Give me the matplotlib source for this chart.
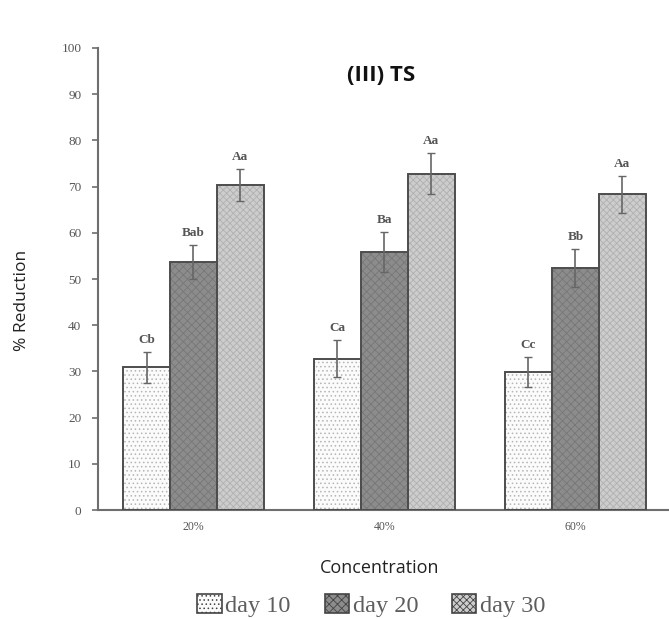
import numpy as np
import matplotlib.pyplot as plt
from matplotlib.patches import Patch

concentrations = ["20%", "40%", "60%"]
series = ["day 10", "day 20", "day 30"]
day10 = [30.9, 32.7, 29.9]
day20 = [53.6, 55.9, 52.3]
day30 = [70.4, 72.8, 68.3]
err10 = [3.4, 4.0, 3.2]
err20 = [3.7, 4.3, 4.1]
err30 = [3.5, 4.4, 4.0]
letters10 = ["Cb", "Ca", "Cc"]
letters20 = ["Bab", "Ba", "Bb"]
letters30 = ["Aa", "Aa", "Aa"]

faces = ["#fbfbfb", "#8c8c8c", "#cdcdcd"]
hatches = ["....", "xxxx", "xxxxx"]
hatch_cols = ["#b5b5b5", "#777777", "#b0b0b0"]
axis_grey = "#6e6e6e"
text_grey = "#555555"

plt.rcParams["hatch.linewidth"] = 0.6

fig = plt.figure(figsize=(6.69, 6.19), dpi=100)
ax = fig.add_axes([0.1465, 0.176, 0.8535, 0.7465])

x = np.arange(len(concentrations))
w = 0.246
values = [day10, day20, day30]
errors = [err10, err20, err30]
letters = [letters10, letters20, letters30]

for i in range(3):
    pos = x + (i - 1) * w
    ax.bar(pos, values[i], w, color=faces[i], edgecolor=hatch_cols[i],
           hatch=hatches[i], linewidth=0, zorder=2)
    # outline drawn separately so the hatch colour can differ from the edge
    ax.bar(pos, values[i], w, fill=False, edgecolor="#4d4d4d", linewidth=1.4, zorder=3)
    ax.errorbar(pos, values[i], yerr=errors[i], fmt="none", ecolor="#666666",
                elinewidth=1.2, capsize=3, capthick=1.0, zorder=4)
    for xp, v, e, lab in zip(pos, values[i], errors[i], letters[i]):
        ax.text(xp, v + e + 1.3, lab, ha="center", va="bottom", family="Liberation Serif",
                fontweight="bold", fontsize=9.5, color=text_grey)

ax.set_xlim(-0.5, 2.49)
ax.set_ylim(0, 100)
ax.set_yticks(np.arange(0, 101, 10))
ax.set_xticks(x)
ax.set_xticklabels(concentrations, family="Liberation Serif", fontsize=8.5, color=text_grey)
for lab in ax.get_yticklabels():
    lab.set_family("Liberation Serif")
    lab.set_fontsize(9.5)
    lab.set_color(text_grey)
ax.tick_params(axis="y", length=4, width=1.2, color=axis_grey, pad=8)
ax.tick_params(axis="x", length=0, pad=8)

for side in ["top", "right"]:
    ax.spines[side].set_visible(False)
for side in ["left", "bottom"]:
    ax.spines[side].set_color(axis_grey)
    ax.spines[side].set_linewidth(1.5)

fig.text(0.57, 0.878, "(III) TS", ha="center", va="center", family="Open Sans",
         fontweight="bold", fontsize=16, color="#111111")
fig.text(0.033, 0.515, "% Reduction", rotation=90, ha="center", va="center",
         family="Open Sans", fontsize=12.5, color="#222222")
fig.text(0.568, 0.082, "Concentration", ha="center", va="center",
         family="Open Sans", fontsize=13, color="#222222")

handles = [Patch(facecolor=faces[i], edgecolor="#444444", hatch=hatches[i], linewidth=1.2)
           for i in range(3)]
leg = fig.legend(handles, series, loc="center", bbox_to_anchor=(0.555, 0.022),
                 ncol=3, frameon=False, handlelength=1.0, handleheight=0.8,
                 handletextpad=0.15, columnspacing=1.4,
                 prop={"family": "Liberation Serif", "size": 17.5})
for t in leg.get_texts():
    t.set_color("#5e5e5e")

fig.savefig("out.png", dpi=100)
